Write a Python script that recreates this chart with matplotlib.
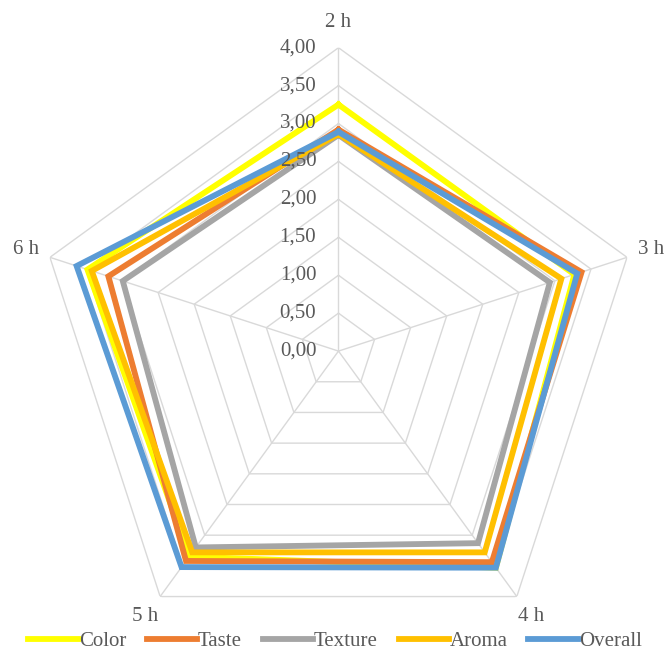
import numpy as np
import matplotlib.pyplot as plt

# data
categories = ['2 h', '3 h', '4 h', '5 h', '6 h']
color_vals = [3.25, 3.27, 3.53, 3.35, 3.48]
taste_vals = [2.92, 3.37, 3.44, 3.42, 3.19]
texture_vals = [2.85, 2.93, 3.13, 3.20, 2.99]
aroma_vals = [2.86, 3.09, 3.28, 3.28, 3.42]
overall_vals = [2.89, 3.31, 3.53, 3.52, 3.63]
series_names = ['Color', 'Taste', 'Texture', 'Aroma', 'Overall']
levels = [0.0, 0.5, 1.0, 1.5, 2.0, 2.5, 3.0, 3.5, 4.0]
level_labels = ['0,00', '0,50', '1,00', '1,50', '2,00', '2,50', '3,00', '3,50', '4,00']

series = [color_vals, taste_vals, texture_vals, aroma_vals, overall_vals]
kleuren = ['#FFFF00', '#ED7D31', '#A5A5A5', '#FFC000', '#5B9BD5']

plt.rcParams['font.family'] = ['Liberation Serif', 'DejaVu Serif']

fig = plt.figure(figsize=(6.7, 6.56), dpi=100)
ax = fig.add_axes([0.0522, 0.0023, 0.906, 0.925], projection='polar')
ax.set_theta_offset(np.pi / 2)
ax.set_theta_direction(-1)
ax.set_ylim(0, 4)
ax.set_axis_off()

n = len(categories)
hoeken = np.linspace(0, 2 * np.pi, n, endpoint=False)
hoeken_dicht = np.append(hoeken, hoeken[0])

# pentagon grid and spokes
grid_kleur = '#D9D9D9'
for r in levels[1:]:
    ax.plot(hoeken_dicht, [r] * (n + 1), color=grid_kleur, lw=1, zorder=1)
for a in hoeken:
    ax.plot([a, a], [0, 4], color=grid_kleur, lw=1, zorder=1)

# series
for naam, waarden, kleur in zip(series_names, series, kleuren):
    ax.plot(hoeken_dicht, waarden + waarden[:1], color=kleur, lw=4.2,
            label=naam, solid_joinstyle='miter', zorder=3)

# value labels along the top axis
for r, lab in zip(levels, level_labels):
    ax.annotate(lab, xy=(0, r), xytext=(-16, 0), textcoords='offset points',
                ha='right', va='center', fontsize=15, color='#595959', zorder=4)

# category labels
for a, cat in zip(hoeken, categories):
    ax.text(a, 4.33, cat, ha='center', va='center', fontsize=15,
            color='#595959', clip_on=False)

fig.legend(loc='center', bbox_to_anchor=(0.5, 0.022), ncol=5, frameon=False,
           fontsize=15, handlelength=2.4, handletextpad=0.05, columnspacing=1.0,
           labelcolor='#595959')

plt.savefig('out.png', dpi=100)
